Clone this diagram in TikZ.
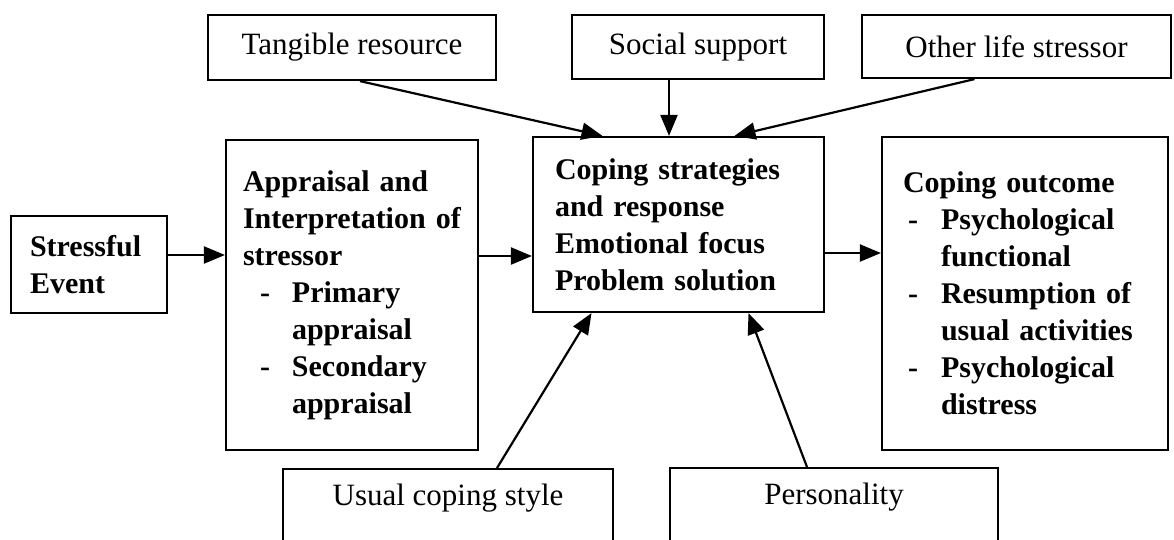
\documentclass[tikz,border=0pt]{standalone}
\usepackage{fontspec}
\setmainfont{Liberation Serif}
\usetikzlibrary{arrows.meta}

\newcommand{\dashitem}{\hspace*{17pt}\makebox[32pt][l]{-}}
\newcommand{\itemcont}{\hspace*{49pt}}
\newcommand{\outdash}{\hspace*{5pt}\makebox[33pt][l]{-}}
\newcommand{\outcont}{\hspace*{38pt}}

\begin{document}
\begin{tikzpicture}[
		x=1pt, y=-1pt,
		box/.style={draw, line width=2.2pt, inner sep=0pt, font=\fontsize{31}{37}\selectfont},
		listbox/.style={box, align=left, font=\fontsize{30}{37}\selectfont\bfseries},
		lbl/.style={inner sep=0pt, font=\fontsize{31}{37}\selectfont},
		arr/.style={line width=2.2pt, -{Triangle[length=21pt,width=17pt]}}
	]
	\useasboundingbox (0,0) rectangle (1174,539);
	\clip (0,0) rectangle (1174,539);

	% top row
	\node[box, minimum width=288pt, minimum height=65pt] (tang) at (352,47.5) {Tangible resource};
	\node[box, minimum width=252pt, minimum height=64pt] (soc) at (698,47) {Social support};
	\node[box, minimum width=309pt, minimum height=63pt] (oth) at (1016.5,46.5) {Other life stressor};

	% middle row
	\node[listbox, text width=118pt, minimum width=156pt, minimum height=97pt] (stress) at (89,264.5) {Stressful\\Event};
	\node[listbox, text width=218pt, minimum width=252pt, minimum height=310pt] (appr) at (352,295) {Appraisal and\\Interpretation of\\stressor\\
		\dashitem Primary\\\itemcont appraisal\\\dashitem Secondary\\\itemcont appraisal};
	\node[listbox, text width=247pt, minimum width=291pt, minimum height=175pt] (cope) at (678.5,224.5) {Coping strategies\\and response\\Emotional focus\\Problem solution};
	\node[listbox, text width=244pt, minimum width=286pt, minimum height=313pt] (outc) at (1025,293.5) {Coping outcome\\
		\outdash Psychological\\\outcont functional\\\outdash Resumption of\\\outcont usual activities\\\outdash Psychological\\\outcont distress};

	% bottom row, cut off by the page edge
	\node[box, anchor=north, minimum width=330pt, minimum height=100pt] (usual) at (448,468) {};
	\node[lbl] (usualtext) at ([yshift=-30pt]usual.north) {Usual coping style};
	\node[box, anchor=north, minimum width=328pt, minimum height=100pt] (pers) at (834,467) {};
	\node[lbl] (perstext) at ([yshift=-30pt]pers.north) {Personality};

	% connectors
	\draw[arr] ([yshift=9.5pt]stress.east) -- ([yshift=9.5pt]stress.east -| appr.west);
	\draw[arr] ([yshift=39pt]appr.east) -- ([yshift=39pt]appr.east -| cope.west);
	\draw[arr] ([yshift=-28.5pt]cope.east) -- ([yshift=-28.5pt]cope.east -| outc.west);

	\draw[arr] ([xshift=8pt]tang.south) -- ([xshift=-76pt]cope.north);
	\draw[arr] ([xshift=-9.5pt]cope.north |- soc.south) -- ([xshift=-9.5pt]cope.north);
	\draw[arr] ([xshift=-42pt]oth.south) -- ([xshift=56pt]cope.north);

	\draw[arr] ([xshift=49pt]usual.north) -- ([xshift=-87pt]cope.south);
	\draw[arr] ([xshift=-27pt]pers.north) -- ([xshift=70pt]cope.south);
\end{tikzpicture}
\end{document}
